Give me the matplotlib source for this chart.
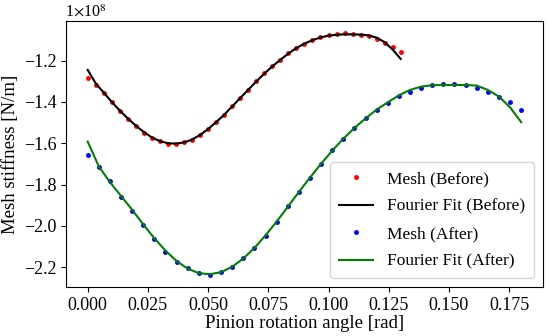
import numpy as np
import matplotlib
matplotlib.use('Agg')
import matplotlib.pyplot as plt

plt.rcParams['font.family'] = ['Liberation Serif', 'DejaVu Serif']
plt.rcParams['mathtext.fontset'] = 'stix'

# pinion angle grids [rad]
angle_before = np.linspace(0, 0.13, 40)
angle_after = np.linspace(0, 0.18, 40)

# mesh stiffness, in units of 1e8 N/m
mesh_before = [-1.282, -1.319, -1.358, -1.400, -1.442, -1.481, -1.516, -1.548, -1.573, -1.590,
               -1.602, -1.603, -1.595, -1.582, -1.560, -1.530, -1.499, -1.463, -1.421, -1.380,
               -1.342, -1.300, -1.261, -1.226, -1.197, -1.163, -1.137, -1.121, -1.102, -1.085,
               -1.078, -1.069, -1.066, -1.069, -1.074, -1.082, -1.097, -1.114, -1.132, -1.156]
fit_before = [-1.245, -1.310, -1.355, -1.400, -1.442, -1.480, -1.515, -1.546, -1.572, -1.590,
              -1.600, -1.602, -1.596, -1.582, -1.560, -1.531, -1.498, -1.462, -1.422, -1.381,
              -1.341, -1.301, -1.263, -1.228, -1.196, -1.166, -1.139, -1.118, -1.101, -1.088,
              -1.079, -1.075, -1.073, -1.073, -1.074, -1.078, -1.089, -1.111, -1.147, -1.192]
mesh_after = [-1.656, -1.716, -1.785, -1.858, -1.929, -1.997, -2.065, -2.125, -2.173, -2.206,
              -2.228, -2.237, -2.224, -2.200, -2.156, -2.108, -2.047, -1.979, -1.906, -1.835,
              -1.767, -1.700, -1.634, -1.579, -1.524, -1.477, -1.437, -1.403, -1.373, -1.350,
              -1.334, -1.319, -1.315, -1.315, -1.319, -1.332, -1.351, -1.374, -1.400, -1.437]
fit_after = [-1.592, -1.712, -1.788, -1.855, -1.922, -1.993, -2.060, -2.120, -2.170, -2.207,
             -2.229, -2.234, -2.224, -2.198, -2.158, -2.107, -2.046, -1.979, -1.908, -1.836,
             -1.766, -1.699, -1.636, -1.578, -1.526, -1.480, -1.437, -1.402, -1.368, -1.342,
             -1.326, -1.319, -1.318, -1.318, -1.318, -1.321, -1.342, -1.374, -1.426, -1.498]

fig = plt.figure(figsize=(5.5, 3.36), dpi=100)
ax = fig.add_axes([0.12, 0.146, 0.867, 0.792])

ax.plot(angle_before, mesh_before, '.', color='red', markersize=5, label='Mesh (Before)')
ax.plot(angle_before, fit_before, '-', color='black', lw=1.5, label='Fourier Fit (Before)')
ax.plot(angle_after, mesh_after, '.', color='blue', markersize=5, label='Mesh (After)')
ax.plot(angle_after, fit_after, '-', color='green', lw=1.5, label='Fourier Fit (After)')

ax.set_xticks([0.000, 0.025, 0.050, 0.075, 0.100, 0.125, 0.150, 0.175])
ax.set_xticklabels(['0.000', '0.025', '0.050', '0.075', '0.100', '0.125', '0.150', '0.175'])
ax.set_yticks([-2.2, -2.0, -1.8, -1.6, -1.4, -1.2])
ax.set_yticklabels(['\u22122.2', '\u22122.0', '\u22121.8', '\u22121.6', '\u22121.4', '\u22121.2'])
ax.tick_params(labelsize=13)
ax.text(-0.002, 1.0, r'1$\times$10$^{8}$', transform=ax.transAxes, fontsize=11.5,
        ha='left', va='bottom')

ax.set_xlabel('Pinion rotation angle [rad]', fontsize=13.5, labelpad=1)
ax.set_ylabel('Mesh stiffness [N/m]', fontsize=13.5, labelpad=3)
ax.legend(loc='lower right', fontsize=12.5, labelspacing=0.65, borderpad=0.5)

plt.savefig('out.png', dpi=100)
